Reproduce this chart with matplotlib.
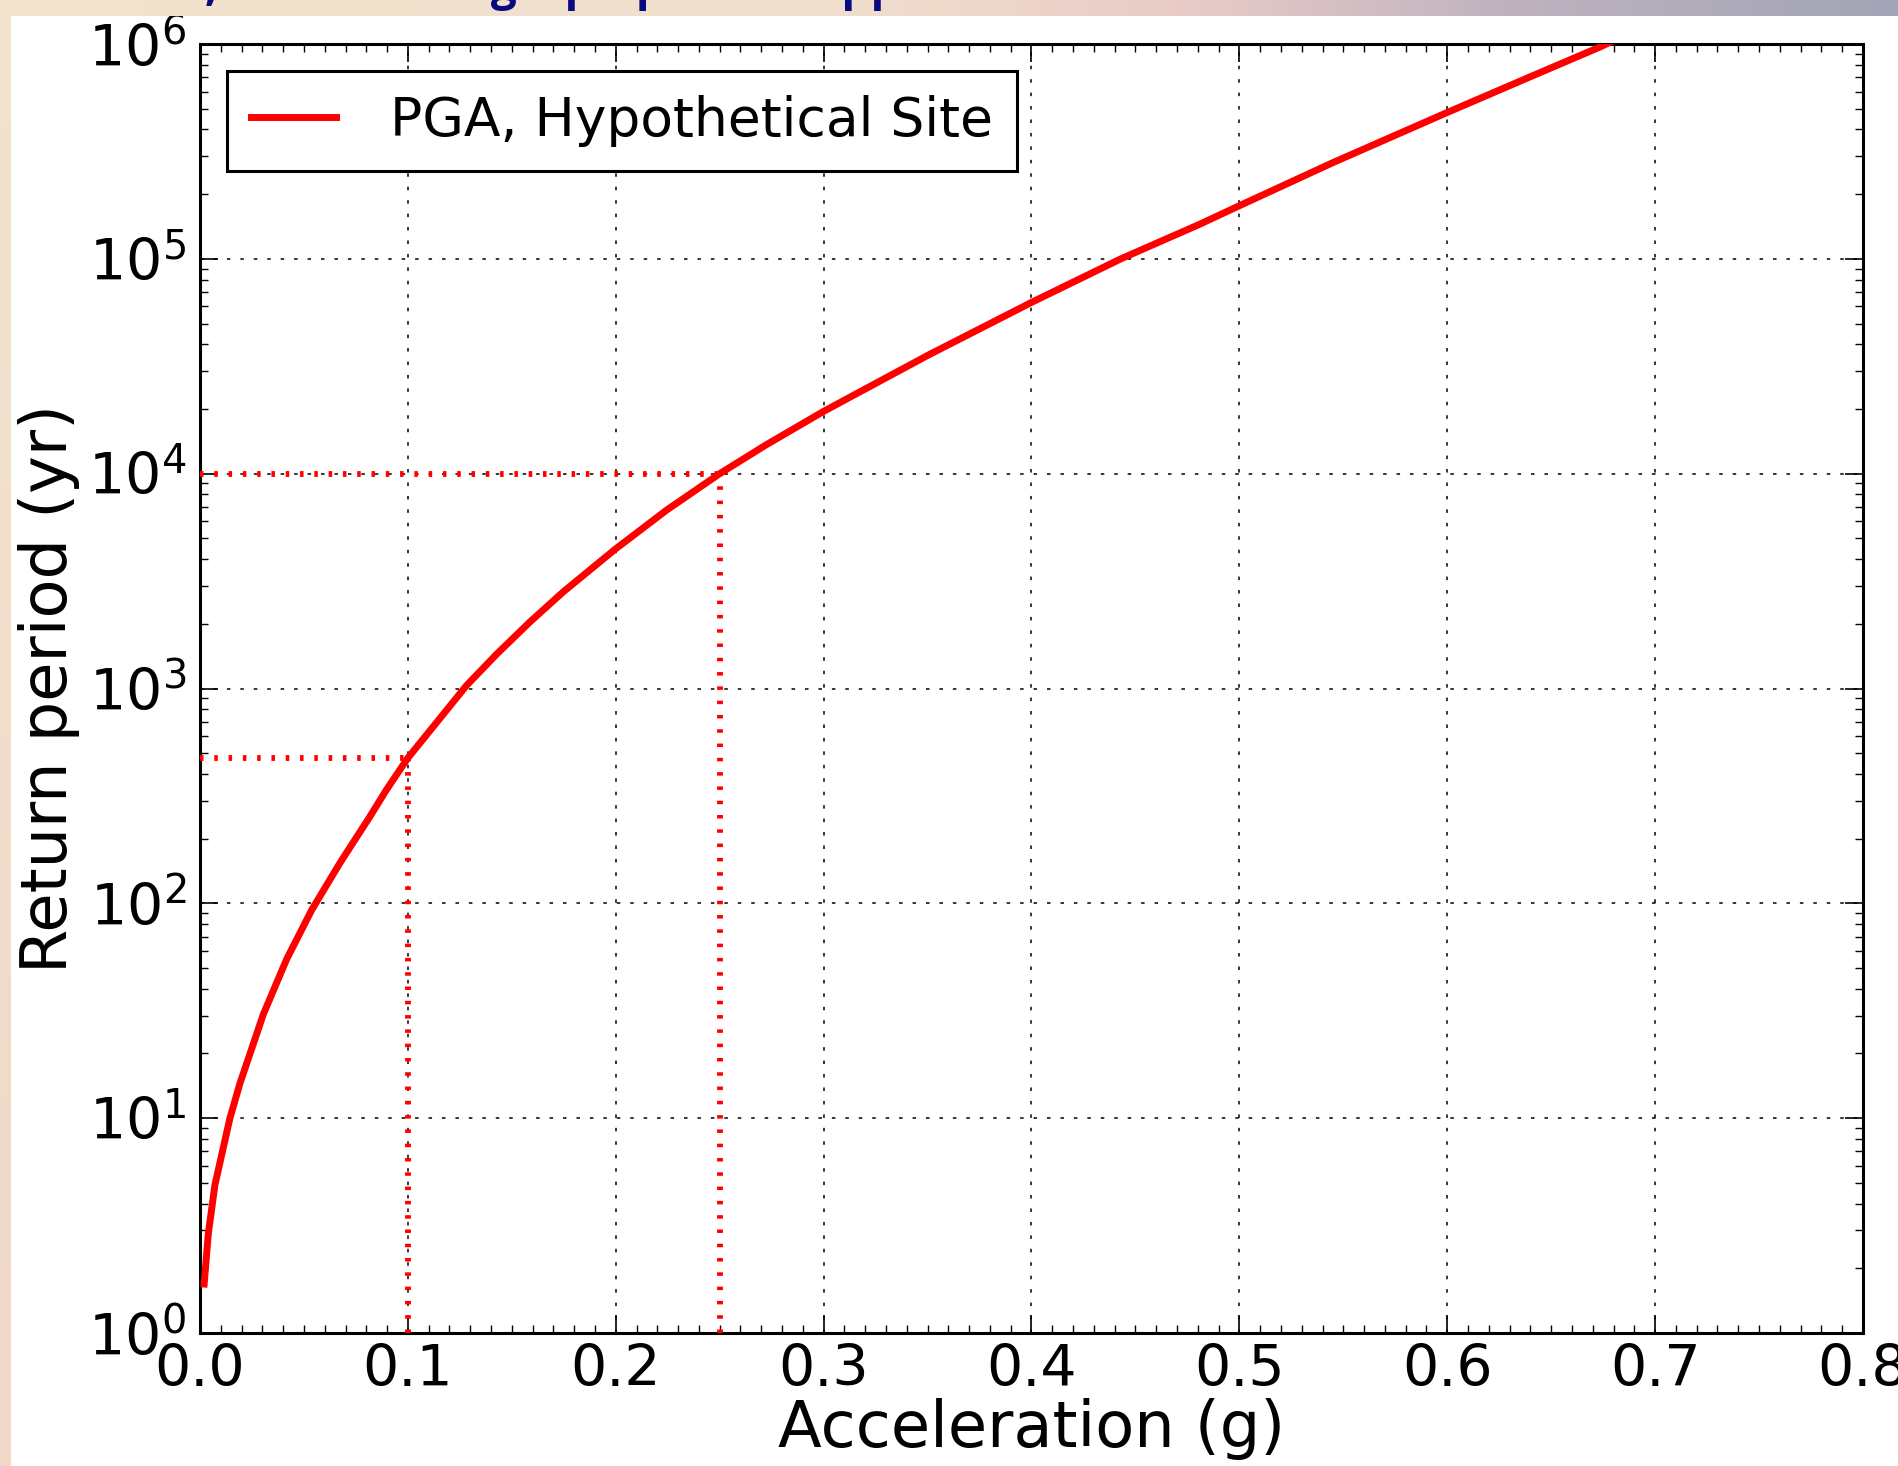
import numpy as np
import matplotlib
matplotlib.use("Agg")
import matplotlib.pyplot as plt
from matplotlib.ticker import MultipleLocator, FormatStrFormatter

# data
pga = [0.002, 0.004, 0.0072, 0.0144, 0.0192, 0.0305, 0.0417, 0.0537, 0.0673,
       0.0818, 0.0898, 0.10, 0.1283, 0.1427, 0.1587, 0.1748, 0.1908, 0.20,
       0.2244, 0.25, 0.2725, 0.30, 0.35, 0.40, 0.443, 0.481, 0.50, 0.545,
       0.60, 0.641, 0.673, 0.69]
return_period = [1.69, 2.9, 4.9, 10, 14.5, 30.5, 55, 93, 154,
                 254, 339, 475, 1035, 1445, 2040, 2820, 3780, 4470,
                 6760, 10000, 13650, 19500, 35500, 62700, 100000, 145000, 176700, 280500,
                 480000, 711000, 964000, 1.15e6]

# design points marked with dotted lines
ref_pga = [0.1, 0.25]
ref_period = [475, 1e4]

series_label = "PGA, Hypothetical Site"
x_ticks = [0.0, 0.1, 0.2, 0.3, 0.4, 0.5, 0.6, 0.7, 0.8]
slide_title = "Next, use hazard graph per the approach"

W, H = 1899, 1466
fig = plt.figure(figsize=(W / 100, H / 100), dpi=100)
fig.patch.set_facecolor("white")

ax = fig.add_axes([200 / W, 1 - 1333 / H, 1663 / W, 1289 / H])
ax.set_yscale("log")
ax.set_xlim(0, 0.8)
ax.set_ylim(1, 1e6)

ax.plot(pga, return_period, color="red", lw=5, label=series_label, zorder=4,
        solid_joinstyle="round")
for a, t in zip(ref_pga, ref_period):
    ax.plot([0, a], [t, t], color="red", lw=4.2, linestyle=(0, (0.6, 1.85)), zorder=3)
    ax.plot([a, a], [1, t], color="red", lw=4.2, linestyle=(0, (0.6, 1.85)), zorder=3)

ax.set_xticks(x_ticks)
ax.xaxis.set_major_formatter(FormatStrFormatter("%.1f"))
ax.xaxis.set_minor_locator(MultipleLocator(0.01))
ax.tick_params(which="both", direction="in", top=True, right=True)
ax.tick_params(which="major", length=13, width=1.2, labelsize=41)
ax.tick_params(which="minor", length=6, width=1.0)
ax.tick_params(axis="x", pad=7)
ax.tick_params(axis="y", pad=10)
for sp in ax.spines.values():
    sp.set_linewidth(2.2)

ax.grid(True, which="major", color="k", linestyle=(0, (2.3, 6.5)), linewidth=1.1)
ax.set_axisbelow(False)

ax.set_xlabel("Acceleration (g)", fontsize=46, labelpad=0)
ax.set_ylabel("Return period (yr)", fontsize=46, labelpad=6)

leg = ax.legend(loc="upper left", fontsize=38.5, fancybox=False, framealpha=1,
                edgecolor="k", borderpad=0.45, borderaxespad=0.5,
                handlelength=1.6, handletextpad=1.0)
leg.get_frame().set_linewidth(2.2)

# slide background: gradient band on top, beige strip on the left
band = fig.add_axes([0, 1 - 16 / H, 1, 16 / H], zorder=5)
stops_x = [0.0, 0.45, 0.62, 0.8, 1.0]
stops_c = np.array([[243, 228, 205], [240, 222, 205], [233, 204, 200],
                    [190, 178, 190], [162, 165, 182]]) / 255
xs = np.linspace(0, 1, 400)
grad = np.stack([np.interp(xs, stops_x, stops_c[:, i]) for i in range(3)], axis=-1)
band.imshow(grad[None, :, :], aspect="auto", extent=[0, 1, 0, 1])
band.set_axis_off()

strip = fig.add_axes([0, 0, 11 / W, 1], zorder=5)
ys = np.linspace(0, 1, 200)
vgrad = np.stack([np.interp(ys, [0, 1], [239 / 255, 243 / 255]),
                  np.interp(ys, [0, 1], [216 / 255, 228 / 255]),
                  np.interp(ys, [0, 1], [198 / 255, 205 / 255])], axis=-1)
strip.imshow(vgrad[:, None, :], aspect="auto", extent=[0, 1, 0, 1], origin="lower")
strip.set_axis_off()

# slide title, cut off by the top of the frame
fig.text(95 / W, 1.0, slide_title,
         fontsize=33, color="#0a0a80", fontweight="bold", family="Open Sans",
         va="baseline", ha="left", zorder=6)

fig.savefig("out.png", dpi=100)
